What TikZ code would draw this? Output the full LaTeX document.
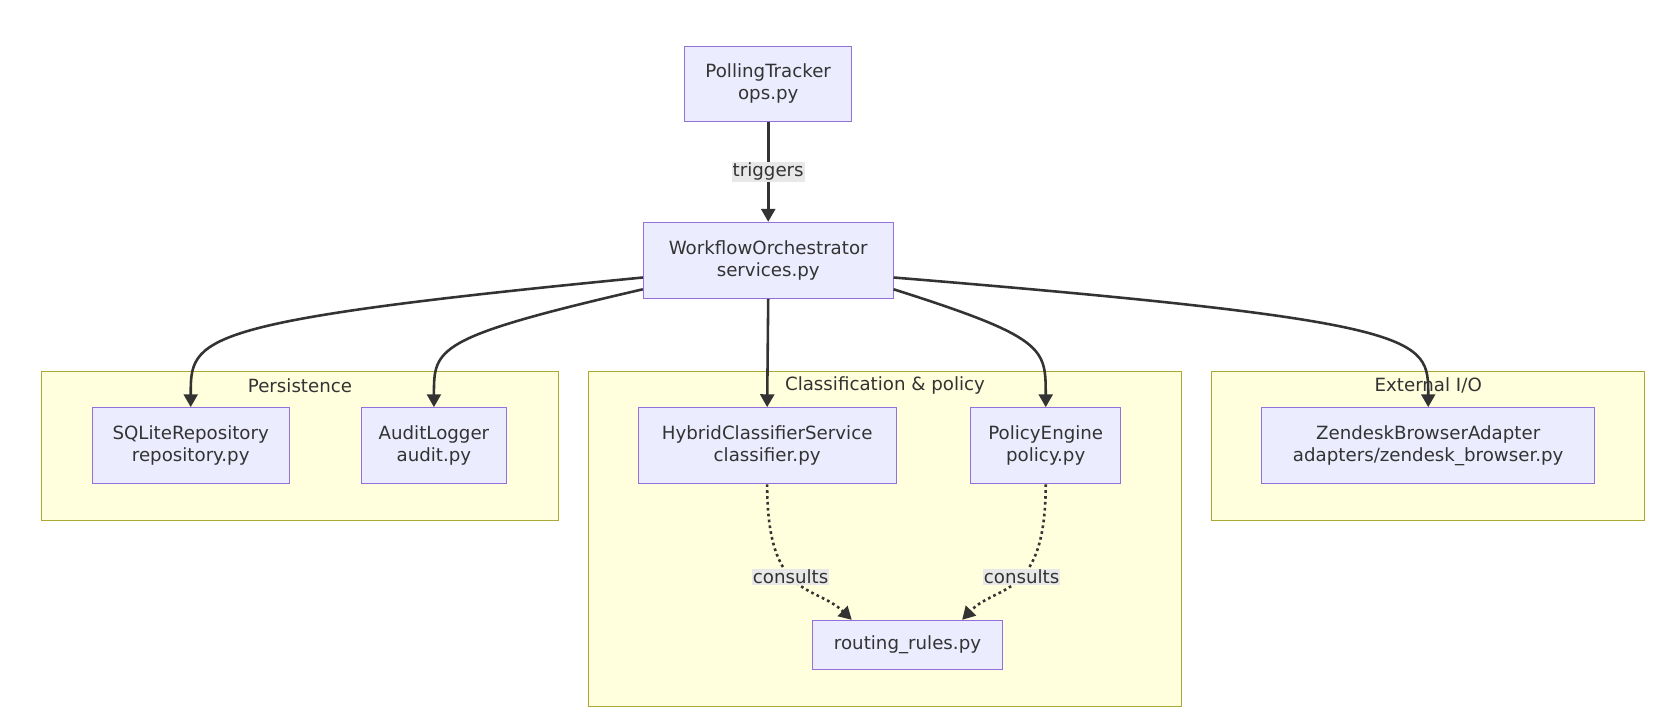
\documentclass[tikz,border=0pt]{standalone}
\usepackage{fontspec}
\setmainfont{DejaVu Sans}
\usetikzlibrary{arrows.meta}

\definecolor{nodefill}{HTML}{ECECFF}
\definecolor{nodeline}{HTML}{9370DB}
\definecolor{clusterfill}{HTML}{FFFFDE}
\definecolor{clusterline}{HTML}{AAAA33}
\definecolor{edgecol}{HTML}{333333}
\definecolor{labelfill}{HTML}{E8E8E8}

\tikzset{
  module/.style={draw=nodeline, fill=nodefill, line width=1pt, align=center,
    font=\fontsize{17}{21}\selectfont, text=edgecol},
  cluster/.style={draw=clusterline, fill=clusterfill, line width=1pt},
  title/.style={font=\fontsize{17}{21}\selectfont, text=edgecol},
  edge/.style={draw=edgecol, line width=2.4pt, -{Triangle[length=12pt,width=13pt]}},
  depends/.style={edge, dash pattern=on 2.5pt off 3pt},
  tag/.style={fill=labelfill, font=\fontsize{17}{21}\selectfont, text=edgecol, inner sep=1pt}
}

\begin{document}
\begin{tikzpicture}[x=1pt, y=-1pt]
            \useasboundingbox (0,0) rectangle (1568,669);

            % Clusters
            \draw[cluster] (39,347) rectangle (521,486);
            \node[title] (persist) at (280,360) {Persistence};
            \draw[cluster] (549,347) rectangle (1103,659);
            \node[title] (classpol) at (826,360) {Classification \& policy};
            \draw[cluster] (1131,347) rectangle (1535,486);
            \node[title] (extio) at (1333,360) {External I/O};

            % Modules
            \node[module, minimum width=156pt, minimum height=70pt] (tracker) at (717,78) {PollingTracker\\ops.py};
            \node[module, minimum width=233pt, minimum height=71pt] (orch) at (717,243) {WorkflowOrchestrator\\services.py};
            \node[module, minimum width=184pt, minimum height=71pt] (sqlite) at (178,416) {SQLiteRepository\\repository.py};
            \node[module, minimum width=135pt, minimum height=71pt] (audit) at (405,416) {AuditLogger\\audit.py};
            \node[module, minimum width=241pt, minimum height=71pt] (hybrid) at (716,416) {HybridClassifierService\\classifier.py};
            \node[module, minimum width=140pt, minimum height=71pt] (policy) at (976,416) {PolicyEngine\\policy.py};
            \node[module, minimum width=178pt, minimum height=46pt] (rules) at (847,602) {routing\_rules.py};
            \node[module, minimum width=311pt, minimum height=71pt] (zendesk) at (1333,416) {ZendeskBrowserAdapter\\adapters/zendesk\_browser.py};

            % Trigger edge
            \draw[edge] (tracker) -- node[tag] {triggers} (orch);

            % Orchestrator fan-out
            \draw[edge] ([yshift=-16pt]orch.west) .. controls (178,300) and (178,315) .. (sqlite.north);
            \draw[edge] ([yshift=-27pt]orch.west) .. controls (405,315) and (405,325) .. (audit.north);
            \draw[edge] (orch.south) -- (hybrid.north);
            \draw[edge] ([yshift=-27pt]orch.east) .. controls (976,315) and (976,325) .. (policy.north);
            \draw[edge] ([yshift=-16pt]orch.east) .. controls (1333,300) and (1333,315) .. (zendesk.north);

            % Rule lookups
            \draw[depends] (hybrid.south) .. controls (716,560) and (760,545) .. node[tag, pos=0.45] {consults} ([xshift=-52pt]rules.north);
            \draw[depends] (policy.south) .. controls (976,560) and (930,545) .. node[tag, pos=0.45] {consults} ([xshift=51pt]rules.north);
        \end{tikzpicture}
\end{document}
